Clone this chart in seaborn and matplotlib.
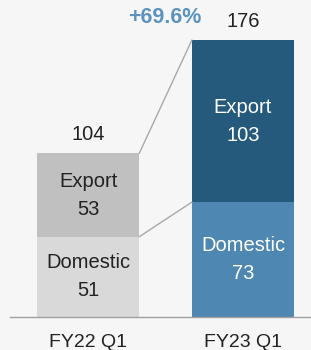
import matplotlib
matplotlib.use('Agg')
import matplotlib.pyplot as plt
import seaborn as sns
import pandas as pd

# 数据
quarters = ['FY22 Q1', 'FY23 Q1']
domestic = [51, 73]
export = [53, 103]
growth_label = '+69.6%'

totals = [d + e for d, e in zip(domestic, export)]
df = pd.DataFrame({'quarter': quarters, 'domestic': domestic, 'export': export, 'total': totals})

bg = '#f6f6f6'
export_colors = ['#c0c0c0', '#255a7d']
domestic_colors = ['#d9d9d9', '#4d87b2']
text_colors = ['#222222', 'white']

sns.set_theme(style='white')
plt.rcParams['font.family'] = ['Liberation Sans', 'DejaVu Sans']

fig = plt.figure(figsize=(3.11, 3.5), dpi=100, facecolor=bg)
ax = fig.add_axes([0.033, 0.0943, 0.967, 0.9057], facecolor=bg)

# 堆叠柱：先画总量（出口颜色），再画国内覆盖底部
bw = 0.66
sns.barplot(data=df, x='quarter', y='total', hue='quarter', palette=export_colors,
            width=bw, legend=False, ax=ax, saturation=1, linewidth=0)
sns.barplot(data=df, x='quarter', y='domestic', hue='quarter', palette=domestic_colors,
            width=bw, legend=False, ax=ax, saturation=1, linewidth=0)

ax.set_xlim(-0.503, 1.439)
ax.set_ylim(0, 201.4)

# 连接线
half = bw / 2
ax.plot([0 + half, 1 - half], [totals[0], totals[1]], color='#a8a8a8', lw=1, zorder=1)
ax.plot([0 + half, 1 - half], [domestic[0], domestic[1]], color='#a8a8a8', lw=1, zorder=3)

# 标签
for i in range(len(quarters)):
    ax.text(i, totals[i] + 12, str(totals[i]), ha='center', va='center', fontsize=14.5, color='#222222')
    ax.text(i, domestic[i] + export[i] / 2, f'Export\n{export[i]}', ha='center', va='center',
            fontsize=14.5, color=text_colors[i], linespacing=1.6)
    ax.text(i, domestic[i] / 2, f'Domestic\n{domestic[i]}', ha='center', va='center',
            fontsize=14.5, color=text_colors[i], linespacing=1.6)

ax.text(0.497, totals[1] + 14.5, growth_label, ha='center', va='center', fontsize=15.5,
        fontweight='bold', color='#5b93bd')

sns.despine(ax=ax, left=True)
ax.spines['bottom'].set_color('#a0a0a0')
ax.spines['bottom'].set_linewidth(1)
ax.set_yticks([])
ax.set_xlabel('')
ax.set_ylabel('')
ax.tick_params(axis='x', length=0, pad=12, labelsize=14, labelcolor='#222222')

fig.savefig('out.png', dpi=100, facecolor=bg)
